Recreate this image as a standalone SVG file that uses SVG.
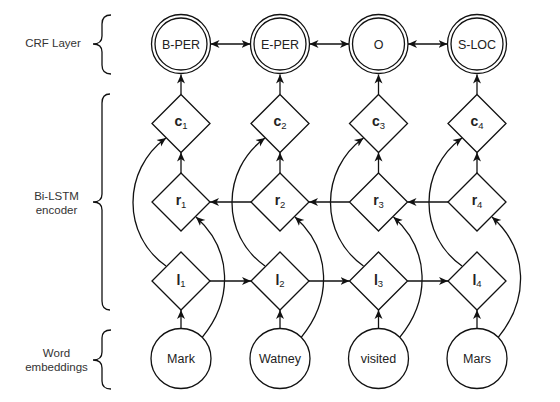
<svg xmlns="http://www.w3.org/2000/svg" width="560" height="402" viewBox="0 0 560 402">
<defs>
<style>
.ln{fill:none;stroke:#111;stroke-width:1.3}
.nd{fill:#fff;stroke:#111;stroke-width:1.3}
.lbl{font-family:"Liberation Sans",Arial,sans-serif;font-size:11.5px;fill:#333;text-anchor:middle}
.nt{font-family:"Liberation Sans",Arial,sans-serif;font-size:12.5px;fill:#222;text-anchor:middle}
.dt{font-family:"Liberation Sans",Arial,sans-serif;font-size:14px;fill:#222;text-anchor:middle}
.b{font-weight:bold}
.s{font-size:9.5px}
.a{marker-end:url(#ah)}
.aa{marker-start:url(#ahs);marker-end:url(#ah)}
</style>
<marker id="ah" markerWidth="10" markerHeight="10" refX="9" refY="5" orient="auto" markerUnits="userSpaceOnUse">
<path d="M0,1 L9,5 L0,9 L2.5,5 z" fill="#111"/>
</marker>
<marker id="ahs" markerWidth="10" markerHeight="10" refX="9" refY="5" orient="auto-start-reverse" markerUnits="userSpaceOnUse">
<path d="M0,1 L9,5 L0,9 L2.5,5 z" fill="#111"/>
</marker>
</defs>
<rect width="560" height="402" fill="#fff"/>

<g id="layer-labels">
<text class="lbl" x="53" y="47">CRF Layer</text>
<path class="ln" d="M111,15 Q102,15 102,24 L102,36 Q102,44 93,44 Q102,44 102,52 L102,65 Q102,74 111,74"/>
<text class="lbl" x="56.5" y="200">Bi-LSTM</text>
<text class="lbl" x="56.5" y="214">encoder</text>
<path class="ln" d="M110,94 Q102,94 102,103 L102,194 Q102,202 93,202 Q102,202 102,210 L102,301 Q102,310 110,310"/>
<text class="lbl" x="56.5" y="357">Word</text>
<text class="lbl" x="56.5" y="371">embeddings</text>
<path class="ln" d="M111,330 Q102,330 102,338 L102,352 Q102,360 93,360 Q102,360 102,368 L102,381 Q102,389 111,389"/>
</g>

<g id="connectors">
<!-- CRF transitions -->
<path class="ln aa" d="M210.5,44 L250.5,44"/>
<path class="ln aa" d="M309.5,44 L349,44"/>
<path class="ln aa" d="M408,44 L447.5,44"/>
<!-- c to CRF -->
<path class="ln a" d="M181,94.5 L181,74.5"/>
<path class="ln a" d="M280,94.5 L280,74.5"/>
<path class="ln a" d="M378.5,94.5 L378.5,74.5"/>
<path class="ln a" d="M477,94.5 L477,74.5"/>
<!-- r to c -->
<path class="ln a" d="M181,173 L181,152.5"/>
<path class="ln a" d="M280,173 L280,152.5"/>
<path class="ln a" d="M378.5,173 L378.5,152.5"/>
<path class="ln a" d="M477,173 L477,152.5"/>
<!-- word to l -->
<path class="ln a" d="M181,328.5 L181,310"/>
<path class="ln a" d="M280,328.5 L280,310"/>
<path class="ln a" d="M378.5,328.5 L378.5,310"/>
<path class="ln a" d="M477,328.5 L477,310"/>
<!-- backward r -->
<path class="ln a" d="M251,202 L210,202"/>
<path class="ln a" d="M349.5,202 L309,202"/>
<path class="ln a" d="M448,202 L407.5,202"/>
<!-- forward l -->
<path class="ln a" d="M210,281 L251,281"/>
<path class="ln a" d="M309,281 L349.5,281"/>
<path class="ln a" d="M407.5,281 L448,281"/>
<!-- l to c curves -->
<path class="ln a" d="M166,266 C122,235 122,170 166,138"/>
<path class="ln a" d="M265,266 C221,235 221,170 265,138"/>
<path class="ln a" d="M363.5,266 C319.5,235 319.5,170 363.5,138"/>
<path class="ln a" d="M462,266 C418,235 418,170 462,138"/>
<!-- word to r curves -->
<path class="ln a" d="M202.2,337.3 C233,300 233,250 196,217"/>
<path class="ln a" d="M301.2,337.3 C332,300 332,250 295,217"/>
<path class="ln a" d="M399.7,337.3 C430.5,300 430.5,250 393.5,217"/>
<path class="ln a" d="M498.2,337.3 C529,300 529,250 492,217"/>
</g>

<g id="crf-1"><circle class="nd" cx="181" cy="44" r="29.5"/><circle class="nd" cx="181" cy="44" r="26"/><text class="nt" x="181" y="48.5">B-PER</text></g>
<g id="crf-2"><circle class="nd" cx="280" cy="44" r="29.5"/><circle class="nd" cx="280" cy="44" r="26"/><text class="nt" x="280" y="48.5">E-PER</text></g>
<g id="crf-3"><circle class="nd" cx="378.5" cy="44" r="29.5"/><circle class="nd" cx="378.5" cy="44" r="26"/><text class="nt" x="378.5" y="48.5">O</text></g>
<g id="crf-4"><circle class="nd" cx="477" cy="44" r="29.5"/><circle class="nd" cx="477" cy="44" r="26"/><text class="nt" x="477" y="48.5">S-LOC</text></g>

<g id="c-1"><polygon class="nd" points="181,94.5 210,123.5 181,152.5 152,123.5"/><text class="dt" x="181" y="126"><tspan class="b">c</tspan><tspan class="s" dy="3">1</tspan></text></g>
<g id="c-2"><polygon class="nd" points="280,94.5 309,123.5 280,152.5 251,123.5"/><text class="dt" x="280" y="126"><tspan class="b">c</tspan><tspan class="s" dy="3">2</tspan></text></g>
<g id="c-3"><polygon class="nd" points="378.5,94.5 407.5,123.5 378.5,152.5 349.5,123.5"/><text class="dt" x="378.5" y="126"><tspan class="b">c</tspan><tspan class="s" dy="3">3</tspan></text></g>
<g id="c-4"><polygon class="nd" points="477,94.5 506,123.5 477,152.5 448,123.5"/><text class="dt" x="477" y="126"><tspan class="b">c</tspan><tspan class="s" dy="3">4</tspan></text></g>

<g id="r-1"><polygon class="nd" points="181,173 210,202 181,231 152,202"/><text class="dt" x="181" y="204.5"><tspan class="b">r</tspan><tspan class="s" dy="3">1</tspan></text></g>
<g id="r-2"><polygon class="nd" points="280,173 309,202 280,231 251,202"/><text class="dt" x="280" y="204.5"><tspan class="b">r</tspan><tspan class="s" dy="3">2</tspan></text></g>
<g id="r-3"><polygon class="nd" points="378.5,173 407.5,202 378.5,231 349.5,202"/><text class="dt" x="378.5" y="204.5"><tspan class="b">r</tspan><tspan class="s" dy="3">3</tspan></text></g>
<g id="r-4"><polygon class="nd" points="477,173 506,202 477,231 448,202"/><text class="dt" x="477" y="204.5"><tspan class="b">r</tspan><tspan class="s" dy="3">4</tspan></text></g>

<g id="l-1"><polygon class="nd" points="181,252 210,281 181,310 152,281"/><text class="dt" x="181" y="285"><tspan class="b">l</tspan><tspan class="s" dy="2">1</tspan></text></g>
<g id="l-2"><polygon class="nd" points="280,252 309,281 280,310 251,281"/><text class="dt" x="280" y="285"><tspan class="b">l</tspan><tspan class="s" dy="2">2</tspan></text></g>
<g id="l-3"><polygon class="nd" points="378.5,252 407.5,281 378.5,310 349.5,281"/><text class="dt" x="378.5" y="285"><tspan class="b">l</tspan><tspan class="s" dy="2">3</tspan></text></g>
<g id="l-4"><polygon class="nd" points="477,252 506,281 477,310 448,281"/><text class="dt" x="477" y="285"><tspan class="b">l</tspan><tspan class="s" dy="2">4</tspan></text></g>

<g id="w-1"><circle class="nd" cx="181" cy="358.5" r="30"/><text class="nt" x="181" y="363">Mark</text></g>
<g id="w-2"><circle class="nd" cx="280" cy="358.5" r="30"/><text class="nt" x="280" y="363">Watney</text></g>
<g id="w-3"><circle class="nd" cx="378.5" cy="358.5" r="30"/><text class="nt" x="378.5" y="363">visited</text></g>
<g id="w-4"><circle class="nd" cx="477" cy="358.5" r="30"/><text class="nt" x="477" y="363">Mars</text></g>
</svg>
